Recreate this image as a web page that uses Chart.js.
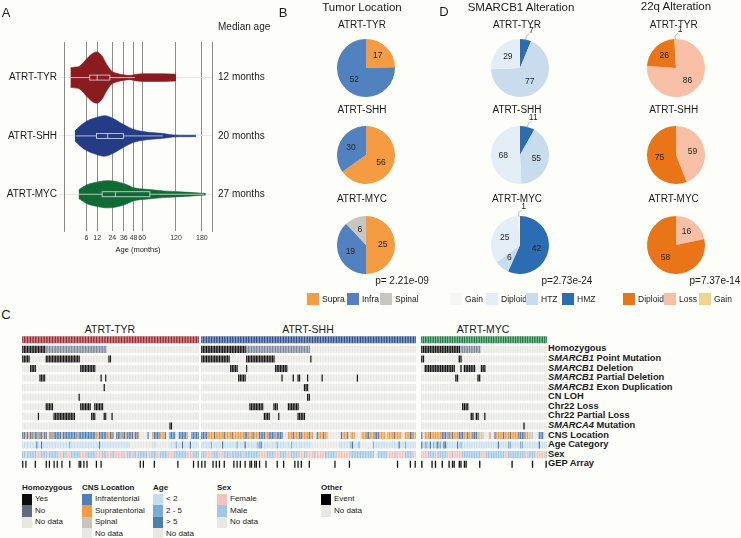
<!DOCTYPE html>
<html>
<head>
<meta charset="utf-8">
<title>ATRT subgroups</title>
<script src="https://cdn.jsdelivr.net/npm/chart.js@4.4.1/dist/chart.umd.min.js"></script>
<style>
  body { margin: 0; background: #fdfdf9; }
  #fig { position: relative; width: 741px; height: 538px; overflow: hidden;
         font-family: "Liberation Sans", Arial, sans-serif; color: #1b1b1b; }
  #fig canvas { position: absolute; }
  .txt { position: absolute; white-space: nowrap; line-height: 1; }
  .sw { position: absolute; }
</style>
</head>
<body>
<div id="fig"></div>
<script>
// ---------- data ----------
const groups = ["ATRT-TYR", "ATRT-SHH", "ATRT-MYC"];
const medianAge = [12, 20, 27];
const ageTicks = [6, 12, 24, 36, 48, 60, 120, 180];

// violin outlines (age in months, relative density)
const tyrAges = [0.85, 1.5, 3.3, 6, 8.5, 11.5, 15, 18.9, 23.3, 28.1, 35.3, 43.2, 51.9, 61.5, 88.9, 108, 120];
const tyrDensity = [0.38, 0.4, 0.45, 0.72, 0.91, 1.0, 0.87, 0.53, 0.26, 0.17, 0.11, 0.08, 0.13, 0.15, 0.15, 0.14, 0.13];
const shhAges = [1.78, 3.3, 6, 11.5, 17.6, 24.8, 35.3, 47.4, 66.6, 95, 114, 140, 165];
const shhDensity = [0.19, 0.38, 0.57, 0.72, 0.79, 0.68, 0.45, 0.26, 0.15, 0.094, 0.04, 0.03, 0.03];
const mycAges = [2.9, 6, 11.5, 18.9, 26.4, 39, 47.4, 66.6, 95, 128, 175, 190];
const mycDensity = [0.17, 0.36, 0.47, 0.53, 0.51, 0.38, 0.26, 0.19, 0.13, 0.094, 0.045, 0.03];
// box: low whisker, q1, median, q3, high whisker
const tyrBox = [0.85, 7.6, 12, 21.8, 49.7];
const shhBox = [2.0, 11.6, 20, 35.6, 94];
const mycBox = [2.9, 15.5, 27, 71.8, 185];

// tumor location (per group)
const supra = [17, 56, 25];
const infra = [52, 30, 19];
const spinal = [0, 0, 6];
// SMARCB1 alteration
const hmz = [7, 11, 42];
const htz = [77, 55, 6];
const diploidB = [29, 68, 25];
const gainB = [0, 0, 1];
// 22q alteration
const loss22 = [86, 59, 16];
const diploid22 = [26, 75, 58];
const gain22 = [1, 0, 0];
const pValues = ["p= 2.21e-09", "p=2.73e-24", "p=7.37e-14"];

// oncoprint
const sampleCounts = [113, 134, 74];
const rowLabels = ["Homozygous", "SMARCB1 Point Mutation", "SMARCB1 Deletion", "SMARCB1 Partial Deletion",
  "SMARCB1 Exon Duplication", "CN LOH", "Chr22 Loss", "Chr22 Partial Loss", "SMARCA4 Mutation",
  "CNS Location", "Age Category", "Sex", "GEP Array"];
const homYes = ["0-14", "0-27", "0-22"];
const homNo = ["15-53", "28-67", "23-34"];
const pointMut = ["0-4,15-36,55-56", "0-17,28-45,68", "0-1,22-23"];
const deletion = ["5-8,37-46", "18-22,28,46-53", "2-19,23,25-31,35-37"];
const partialDel = ["11-14,50,53", "23-27,50,57,60-61,66,75,97", "20-21,33-34"];
const exonDup = ["52", "64-66", ""];
const cnLoh = ["36", "66-67", ""];
const chr22Loss = ["15-19,37-43,46-51", "30-38,45-47,54-60", "24-27"];
const chr22Partial = ["10,20-33,44-46,52-53,57", "39-42,48,60-64", "29-30,32-33,37"];
const smarca4Mut = ["94-95", "", "60"];
const gepArray = ["0,2,8,15,17,20,22,25,30,36-37,39,41,47,50,75,77,84,99,109,112",
  "0,2,7,9,11,14,20,22,24,27,30-31,33-34,36,40,47,51,58,60,62,67,83,92,122,130,133",
  "0,6,8,12,16,18-19,22-23,25-26,34,53,65,73"];
// I infratentorial, S supratentorial, P spinal, . no data
const cnsLocation = [
  ["IISISIISIISIISII.SIS", "IIIIISIIIIIIIIISIIII", "IIIIIIISSIIIIISSIIS.", "IIISIISIIIISIIS.....",
   "I..SIIIISSSI..IIII..", "IIIIIS..IIIII"].join(""),
  ["IIIISSSSISSSSSISSSSI", "SSSSSSSIISSSISSSIIII", "SSIIIISIIII...SSSISS", "SIISSSSISS..ISSSISS.",
   ".......ISSSI.SSS....", "SSSIISSSIIISSSS.SSSS", "ISSSS..SSSIISS"].join(""),
  ["I.SSSISSSSSSIIISISIS", "SSIIISSISSIIISPPP...", "S..ISSSSISSSISSSSIII", "ISSPPP...III.."].join("")
];
// a < 2, b 2-5, c > 5
const ageCategory = [
  ["aaaaaaaaacaacaaaaaaa", "aaaaaaaaaabaaaaaaaaa", "aaaaaaaaacaaaaaaaaaa", "aaaaaaaaa...........",
   "...aaa........aaaaba", "aacaaaacaaaaa"].join(""),
  ["aaaaaabaaaaaacaaaaaa", "aabaaaacaaaaaaabbcaa", "aaaaaaabaaaaaaaabaaa", "aaaaaaaaa...........",
   "......aaaaaaabcaaab.", ".......baaaaaaaaaaaa", "aaacaaabaaaaaa"].join(""),
  ["cabbacabacbbaccaaaaa", "acabaaaaaaaaaaaaaaaa", "aaaaacaaaaabbaaaaabb", "aaaaaaaaacaaaa"].join("")
];
// f female, m male
const sexCode = [
  ["mmfmmmmmmfffmmmmfmmm", "mmmfffmmfffmmmmmmfff", "fmmmmmmffffmmmfffmmf", "ffffmffmmmfmmfmmmmmm",
   "ffmmmmffmmmmmffffmmm", "mmmmmffffmmmm"].join(""),
  ["mmmffffmmmmfffmmmmfm", "mmmmmmfmmmmmmmmmffff", "fmmmmmfffmmmmfffmmmm", "mfffmmffffmffffffmmm",
   "mmmmfffffffffmmmmmmm", "mmmmmmmm..mmmmmmffff", "fmfffffmmmmmff"].join(""),
  ["ffffmmmmffmmmmmfffmf", "ffffmmmmmmmmmmmfffmm", "mmmmmmmmmffmmmmmmmmm", "mffmmmmffffffm"].join("")
];

// ---------- helpers ----------
const fig = document.getElementById("fig");
const FONT = '"Liberation Sans", Arial, sans-serif';
Chart.defaults.font.family = FONT;
Chart.defaults.color = "#1b1b1b";

function addText(html, x, y, opts = {}) {
  const d = document.createElement("div");
  d.className = "txt";
  d.innerHTML = html;
  d.style.left = x + "px";
  d.style.top = y + "px";
  d.style.fontSize = (opts.size || 10) + "px";
  if (opts.bold) d.style.fontWeight = "bold";
  const tx = opts.align === "left" ? "0" : opts.align === "right" ? "-100%" : "-50%";
  d.style.transform = `translate(${tx}, -50%)`;
  fig.appendChild(d);
}

function addSwatch(color, x, y, w, h) {
  const s = document.createElement("div");
  s.className = "sw";
  Object.assign(s.style, { left: x + "px", top: y + "px", width: w + "px", height: h + "px", background: color });
  fig.appendChild(s);
}

function addCanvas(x, y, w, h) {
  const c = document.createElement("canvas");
  c.width = w;
  c.height = h;
  Object.assign(c.style, { left: x + "px", top: y + "px", width: w + "px", height: h + "px" });
  fig.appendChild(c);
  return c;
}

function parseRanges(s) {
  const out = new Set();
  if (!s) return out;
  s.split(",").forEach((p) => {
    const [a, b] = p.split("-").map(Number);
    for (let i = a; i <= (b === undefined ? a : b); i++) out.add(i);
  });
  return out;
}

// ---------- panel A: violins ----------
const violinColors = ["#8a1b1f", "#243b87", "#0f6a35"];
const violinAges = [tyrAges, shhAges, mycAges];
const violinDensity = [tyrDensity, shhDensity, mycDensity];
const boxes = [tyrBox, shhBox, mycBox];
const HALF = 0.44;

const violinSets = [];
groups.forEach((g, k) => {
  const c = 3 - k;
  const pts = (sign) => violinAges[k].map((a, j) => ({ x: Math.sqrt(a), y: c + sign * violinDensity[k][j] * HALF }));
  const base = { borderColor: violinColors[k], backgroundColor: violinColors[k], borderWidth: 0.6,
    pointRadius: 0, cubicInterpolationMode: "monotone" };
  violinSets.push({ ...base, data: pts(1), fill: "+1" });
  violinSets.push({ ...base, data: pts(-1), fill: false });
});

const boxPlugin = {
  id: "boxes",
  afterDatasetsDraw(chart) {
    const { ctx, scales: { x, y } } = chart;
    const px = (v) => x.getPixelForValue(Math.sqrt(v));
    boxes.forEach((b, k) => {
      const cy = y.getPixelForValue(3 - k);
      ctx.save();
      ctx.strokeStyle = "rgba(232,232,232,0.95)";
      ctx.lineWidth = 0.8;
      ctx.beginPath();
      ctx.moveTo(px(b[0]), cy); ctx.lineTo(px(b[1]), cy);
      ctx.moveTo(px(b[3]), cy); ctx.lineTo(px(b[4]), cy);
      ctx.moveTo(px(b[2]), cy - 2.5); ctx.lineTo(px(b[2]), cy + 2.5);
      ctx.stroke();
      ctx.strokeRect(px(b[1]), cy - 2.5, px(b[3]) - px(b[1]), 5);
      ctx.restore();
    });
  }
};

const groupTicks = (s) => { s.ticks = [1, 2, 3].map((v) => ({ value: v })); };

new Chart(addCanvas(0, 30, 280, 226), {
  type: "line",
  data: { datasets: violinSets },
  options: {
    animation: false,
    responsive: false,
    layout: { padding: { top: 6 } },
    plugins: { legend: { display: false }, tooltip: { enabled: false } },
    scales: {
      x: {
        type: "linear", min: 0.31, max: 14.38,
        afterBuildTicks: (s) => { s.ticks = ageTicks.map((v) => ({ value: Math.sqrt(v) })); },
        afterFit: (s) => { s.height = 25; },
        ticks: { callback: (v) => String(Math.round(v * v)), font: { size: 7 }, color: "#333",
          padding: 3, autoSkip: false, maxRotation: 0 },
        grid: { color: "#5c5c5c", lineWidth: 0.7, drawTicks: false },
        border: { display: false },
        title: { display: true, text: "Age (months)", font: { size: 7.5 }, color: "#222", padding: { top: 1, bottom: 2 } }
      },
      y: {
        type: "linear", position: "left", min: 0.37, max: 3.61,
        afterBuildTicks: groupTicks,
        afterFit: (s) => { s.width = 64; },
        ticks: { callback: (v) => groups[3 - v], font: { size: 10 }, padding: 2 },
        grid: { color: "#e3e3df", lineWidth: 0.8, tickLength: 5 },
        border: { display: true, color: "#6a6a6a", width: 0.8 }
      },
      y2: {
        type: "linear", position: "right", min: 0.37, max: 3.61,
        afterBuildTicks: groupTicks,
        afterFit: (s) => { s.width = 68; },
        ticks: { callback: (v) => medianAge[3 - v] + " months", font: { size: 10 }, padding: 6 },
        grid: { display: false, drawTicks: false },
        border: { display: true, color: "#6a6a6a", width: 0.8 }
      }
    }
  },
  plugins: [boxPlugin]
});

// ---------- panels B / D: pies ----------
const pieLabelPlugin = {
  id: "pieLabels",
  afterDatasetsDraw(chart, args, opts) {
    const ctx = chart.ctx;
    const vals = chart.data.datasets[0].data;
    ctx.save();
    ctx.font = "8.5px " + FONT;
    ctx.textAlign = "center";
    ctx.textBaseline = "middle";
    ctx.fillStyle = "#262626";
    chart.getDatasetMeta(0).data.forEach((arc, i) => {
      if (!vals[i]) return;
      const { x, y, startAngle, endAngle, outerRadius: r } =
        arc.getProps(["x", "y", "startAngle", "endAngle", "outerRadius"], true);
      const mid = (startAngle + endAngle) / 2;
      const cx = Math.cos(mid), cy = Math.sin(mid);
      if ((opts.outside || []).includes(i)) {
        ctx.strokeStyle = "#9a9a9a";
        ctx.lineWidth = 0.7;
        ctx.beginPath();
        ctx.moveTo(x + cx * r * 0.97, y + cy * r * 0.97);
        ctx.lineTo(x + cx * r * 1.12, y + cy * r * 1.12);
        ctx.lineTo(x + cx * r * 1.12 + 3, y + cy * r * 1.2);
        ctx.stroke();
        ctx.fillText(vals[i], x + cx * r * 1.12 + 5, y + cy * r * 1.32);
      } else {
        ctx.fillText(vals[i], x + cx * r * 0.58, y + cy * r * 0.58);
      }
    });
    ctx.restore();
  }
};

function makePie(cx, cy, values, colors, outside) {
  new Chart(addCanvas(Math.round(cx - 45), Math.round(cy - 45), 90, 90), {
    type: "pie",
    data: { datasets: [{ data: values, backgroundColor: colors, borderWidth: 0 }] },
    options: {
      animation: false, responsive: false,
      layout: { padding: 16 },
      plugins: { legend: { display: false }, tooltip: { enabled: false }, pieLabels: { outside } }
    },
    plugins: [pieLabelPlugin]
  });
}

const locColors = ["#f59b41", "#5181bf", "#c9c6bf"];
const smarcColors = ["#2c6cb2", "#c8dcee", "#e3edf6", "#f6f6f3"];
const q22Colors = ["#f6bfa6", "#ea7519", "#f0d48c"];
const pieRowsY = [68, 155.3, 244.7];
const titleRowsY = [25, 110, 198.5];

groups.forEach((g, k) => {
  makePie(365.7, pieRowsY[k], [supra[k], infra[k], spinal[k]], locColors, []);
  makePie(520, pieRowsY[k], [hmz[k], htz[k], diploidB[k], gainB[k]], smarcColors, k < 2 ? [0] : [3]);
  makePie(675.8, pieRowsY[k], [loss22[k], diploid22[k], gain22[k]], q22Colors, [2]);
  addText(g, 362, titleRowsY[k]);
  addText(g, 517, titleRowsY[k]);
  addText(g, 673.7, titleRowsY[k]);
});

addText("Tumor Location", 362, 8, { size: 11.5 });
addText("SMARCB1 Alteration", 521, 7.5, { size: 11.5 });
addText("22q Alteration", 676, 6.5, { size: 11.5 });
addText(pValues[0], 402, 281);
addText(pValues[1], 567, 281);
addText(pValues[2], 715, 281);

const pieLegend = [
  [locColors[0], "Supra", 307], [locColors[1], "Infra", 347], [locColors[2], "Spinal", 380],
  [smarcColors[3], "Gain", 450], [smarcColors[2], "Diploid", 486], [smarcColors[1], "HTZ", 526], [smarcColors[0], "HMZ", 562],
  [q22Colors[1], "Diploid", 623], [q22Colors[0], "Loss", 664], [q22Colors[2], "Gain", 699]
];
pieLegend.forEach(([c, t, x]) => {
  addSwatch(c, x, 293, 12, 12);
  addText(t, x + 15, 299, { size: 8.5, align: "left" });
});

// ---------- panel C: oncoprint ----------
const C = { none: "#e7e7e3", event: "#161616", slate: "#7d899d" };
const headerColors = ["#9d2b34", "#33508f", "#1f7f45"];
const cnsColors = { I: "#4f80be", S: "#f59c41", P: "#c8c4bc" };
const ageColors = { a: "#c8dff1", b: "#7eb0d8", c: "#4a7ca5" };
const sexColors = { f: "#f6c2b9", m: "#9cc8ea" };

function oncoRows(g) {
  const yes = parseRanges(homYes[g]), no = parseRanges(homNo[g]);
  const binary = [pointMut, deletion, partialDel, exonDup, cnLoh, chr22Loss, chr22Partial, smarca4Mut]
    .map((r) => parseRanges(r[g]));
  const gep = parseRanges(gepArray[g]);
  return [
    () => headerColors[g],
    (i) => (yes.has(i) ? C.event : no.has(i) ? C.slate : C.none),
    ...binary.map((s) => (i) => (s.has(i) ? C.event : C.none)),
    (i) => cnsColors[cnsLocation[g][i]] || C.none,
    (i) => ageColors[ageCategory[g][i]] || C.none,
    (i) => sexColors[sexCode[g][i]] || C.none,
    (i) => (gep.has(i) ? C.event : null)
  ];
}

const oncoBox = [[22, 177], [201, 215], [421, 126]];
const ONCO_TOP = 335, ONCO_H = 134;

groups.forEach((g, k) => {
  const n = sampleCounts[k];
  const sets = oncoRows(k).map((fn, r) => {
    const data = [];
    for (let i = 0; i < n; i++) {
      const c = fn(i);
      if (c) data.push({ x: i, y: [r - 0.37, r + 0.37], c });
    }
    return { data, backgroundColor: (ctx) => (ctx.raw ? ctx.raw.c : "rgba(0,0,0,0)"), borderWidth: 0,
      grouped: false, categoryPercentage: 1, barPercentage: 0.8 };
  });
  new Chart(addCanvas(oncoBox[k][0], ONCO_TOP, oncoBox[k][1], ONCO_H), {
    type: "bar",
    data: { datasets: sets },
    options: {
      animation: false, responsive: false,
      plugins: { legend: { display: false }, tooltip: { enabled: false } },
      scales: {
        x: { type: "linear", min: -0.5, max: n - 0.5, offset: false, display: false },
        y: { type: "linear", min: -0.5, max: 13.5, reverse: true, display: false }
      }
    }
  });
});

addText(groups[0], 110, 329, { size: 10.5 });
addText(groups[1], 308, 329, { size: 10.5 });
addText(groups[2], 483, 329, { size: 10.5 });

rowLabels.forEach((lab, r) => {
  const y = ONCO_TOP + (r + 1.5) * ONCO_H / 14;
  addText(lab.replace(/^(SMARC\w+)/, "<i>$1</i>"), 548, y, { size: 9.3, bold: true, align: "left" });
});

// bottom legend
const legendBlocks = [
  { title: "Homozygous", x: 22, items: [["#0d0d0d", "Yes"], ["#5f6b7e", "No"], [C.none, "No data"]] },
  { title: "CNS Location", x: 82, items: [[cnsColors.I, "Infratentorial"], [cnsColors.S, "Supratentorial"],
    [cnsColors.P, "Spinal"], [C.none, "No data"]] },
  { title: "Age", x: 153, items: [["#c2dcf0", "&lt; 2"], ["#77add7", "2 - 5"], ["#4b80a8", "&gt; 5"], [C.none, "No data"]] },
  { title: "Sex", x: 217, items: [[sexColors.f, "Female"], [sexColors.m, "Male"], [C.none, "No data"]] },
  { title: "Other", x: 321, items: [["#000", "Event"], [C.none, "No data"]] }
];
legendBlocks.forEach((b) => {
  addText(b.title, b.x, 488, { size: 8, bold: true, align: "left" });
  b.items.forEach(([c, t], j) => {
    addSwatch(c, b.x, 493.5 + j * 11.5, 10, 11.5);
    addText(t, b.x + 13, 499.3 + j * 11.5, { size: 8, align: "left" });
  });
});

// panel letters
addText("A", 6, 12, { size: 13 });
addText("B", 283, 12, { size: 13 });
addText("D", 444, 11, { size: 13 });
addText("C", 6, 314, { size: 13 });
addText("Median age", 218, 27, { align: "left" });
</script>
</body>
</html>
